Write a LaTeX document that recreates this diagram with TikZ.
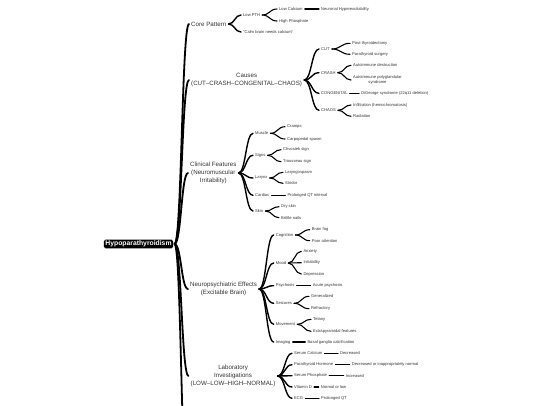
\documentclass[tikz,border=0pt]{standalone}
\usepackage{fontspec}
\setmainfont{Liberation Sans}
\usetikzlibrary{calc}
\definecolor{InkBlack}{HTML}{000000}
\definecolor{TextGray}{HTML}{333333}
\tikzset{
  rootbox/.style={fill=InkBlack, text=white, rounded corners=1.5pt, font=\fontsize{6.8}{7}\selectfont\bfseries, inner xsep=1.5pt, inner ysep=1.2pt, outer xsep=1.5pt},
  topic/.style={anchor=west, align=center, text=TextGray, font=\fontsize{6.2}{8}\selectfont, inner xsep=2pt, inner ysep=0.5pt},
  leaf/.style={anchor=west, align=center, text=TextGray, font=\fontsize{4.1}{5}\selectfont, inner xsep=2pt, inner ysep=0.3pt},
  link/.style={draw=InkBlack, line cap=round, to path={let \p1=(\tikztostart), \p2=(\tikztotarget) in .. controls ({(\x1+\x2)/2},\y1) and ({(\x1+\x2)/2},\y2) .. (\tikztotarget)}},
  mainlink/.style={link, line width=1.8pt},
  sublink/.style={link, line width=1.4pt},
  leaflink/.style={link, line width=1.1pt}
}

\begin{document}
\begin{tikzpicture}[x=1pt, y=-1pt]
\useasboundingbox (0,0) rectangle (540,405);
\clip (0,0) rectangle (540,405);

\node[rootbox] (root) at (138.5,244) {Hypoparathyroidism};

\node[topic] (core) at (189,24) {Core Pattern};
\node[topic] (causes) at (189,80) {Causes\\(CUT–CRASH–CONGENITAL–CHAOS)};
\node[topic] (clin) at (188,173) {Clinical Features\\(Neuromuscular\\Irritability)};
\node[topic] (neuro) at (188,289) {Neuropsychiatric Effects\\(Excitable Brain)};
\node[topic] (lab) at (188.5,376) {Laboratory\\Investigations\\(LOW–LOW–HIGH–NORMAL)};
\coordinate (more) at (188,500);

\node[leaf] (lowpth) at (241,15) {Low PTH};
\node[leaf] (calm) at (241,32) {"Calm brain needs calcium"};
\node[leaf] (lowca) at (277,9) {Low Calcium};
\node[leaf] (highph) at (277,21) {High Phosphate};
\node[leaf] (neuronal) at (319,9) {Neuronal Hyperexcitability};

\node[leaf] (cut) at (319,49) {CUT};
\node[leaf] (crash) at (319,72.7) {CRASH};
\node[leaf] (congenital) at (319,93.3) {CONGENITAL};
\node[leaf] (chaos) at (319,110.3) {CHAOS};
\node[leaf] (posttx) at (350,43.3) {Post-thyroidectomy};
\node[leaf] (parasurg) at (350,54.3) {Parathyroid surgery};
\node[leaf] (autodes) at (351,65.3) {Autoimmune destruction};
\node[leaf] (autopoly) at (351,80) {Autoimmune polyglandular\\syndrome};
\node[leaf] (digeorge) at (359,93.3) {DiGeorge syndrome (22q11 deletion)};
\node[leaf] (infil) at (351,105) {Infiltration (hemochromatosis)};
\node[leaf] (radiat) at (351,116.3) {Radiation};

\node[leaf] (muscle) at (253,133.3) {Muscle};
\node[leaf] (signs) at (253,155.3) {Signs};
\node[leaf] (larynx) at (253,178) {Larynx};
\node[leaf] (cardiac) at (253,195.3) {Cardiac};
\node[leaf] (skin) at (253,211) {Skin};
\node[leaf] (cramps) at (285,126.7) {Cramps};
\node[leaf] (carpo) at (285,139) {Carpopedal spasm};
\node[leaf] (chvostek) at (281,149.7) {Chvostek sign};
\node[leaf] (trousseau) at (281,161.7) {Trousseau sign};
\node[leaf] (laryngo) at (283,172.3) {Laryngospasm};
\node[leaf] (stridor) at (283,183.3) {Stridor};
\node[leaf] (qtint) at (285.3,195.3) {Prolonged QT interval};
\node[leaf] (dryskin) at (279,206.7) {Dry skin};
\node[leaf] (nails) at (279,217.7) {Brittle nails};

\node[leaf] (cognition) at (273.7,235) {Cognition};
\node[leaf] (mood) at (273.7,263) {Mood};
\node[leaf] (psychosis) at (273.7,285.7) {Psychosis};
\node[leaf] (seizures) at (273.7,303.3) {Seizures};
\node[leaf] (movement) at (273.7,324.3) {Movement};
\node[leaf] (imaging) at (273.7,342) {Imaging};
\node[leaf] (brainfog) at (309.7,229.7) {Brain fog};
\node[leaf] (poorattn) at (309.7,240.7) {Poor attention};
\node[leaf] (anxiety) at (301.3,251.3) {Anxiety};
\node[leaf] (irrit) at (301.3,262.7) {Irritability};
\node[leaf] (depress) at (301.3,274) {Depression};
\node[leaf] (acutepsy) at (310.7,285.7) {Acute psychosis};
\node[leaf] (general) at (309,296.3) {Generalized};
\node[leaf] (refract) at (309,308.7) {Refractory};
\node[leaf] (tetany) at (311,319.3) {Tetany};
\node[leaf] (extrapyr) at (311,331.3) {Extrapyramidal features};
\node[leaf] (basal) at (305.3,342) {Basal ganglia calcification};

\node[leaf] (sercal) at (292,353.3) {Serum Calcium};
\node[leaf] (pth) at (292,364.7) {Parathyroid Hormone};
\node[leaf] (serphos) at (292,375.7) {Serum Phosphate};
\node[leaf] (vitd) at (292,387) {Vitamin D};
\node[leaf] (ecg) at (292,398.3) {ECG};
\node[leaf] (decr) at (338,353.3) {Decreased};
\node[leaf] (decrnorm) at (349.7,364.7) {Decreased or inappropriately normal};
\node[leaf] (incr) at (343.7,375.7) {Increased};
\node[leaf] (normlow) at (318.7,387) {Normal or low};
\node[leaf] (prolqt) at (319,398.3) {Prolonged QT};

\foreach \k in {core,causes,clin,neuro,lab}
  \draw[mainlink] (root.east) to (\k.west);
\draw[mainlink] (root.east) to (more);

\foreach \k in {lowpth,calm} \draw[sublink] (core.east) to (\k.west);
\foreach \k in {cut,crash,congenital,chaos} \draw[sublink] (causes.east) to (\k.west);
\foreach \k in {muscle,signs,larynx,cardiac,skin} \draw[sublink] (clin.east) to (\k.west);
\foreach \k in {cognition,mood,psychosis,seizures,movement,imaging} \draw[sublink] (neuro.east) to (\k.west);
\foreach \k in {sercal,pth,serphos,vitd,ecg} \draw[sublink] (lab.east) to (\k.west);

\foreach \a/\b in {lowpth/lowca,lowpth/highph,lowca/neuronal,
    cut/posttx,cut/parasurg,crash/autodes,crash/autopoly,congenital/digeorge,chaos/infil,chaos/radiat,
    muscle/cramps,muscle/carpo,signs/chvostek,signs/trousseau,larynx/laryngo,larynx/stridor,cardiac/qtint,skin/dryskin,skin/nails,
    cognition/brainfog,cognition/poorattn,mood/anxiety,mood/irrit,mood/depress,psychosis/acutepsy,
    seizures/general,seizures/refract,movement/tetany,movement/extrapyr,imaging/basal,
    sercal/decr,pth/decrnorm,serphos/incr,vitd/normlow,ecg/prolqt}
  \draw[leaflink] (\a.east) to (\b.west);
\end{tikzpicture}
\end{document}
